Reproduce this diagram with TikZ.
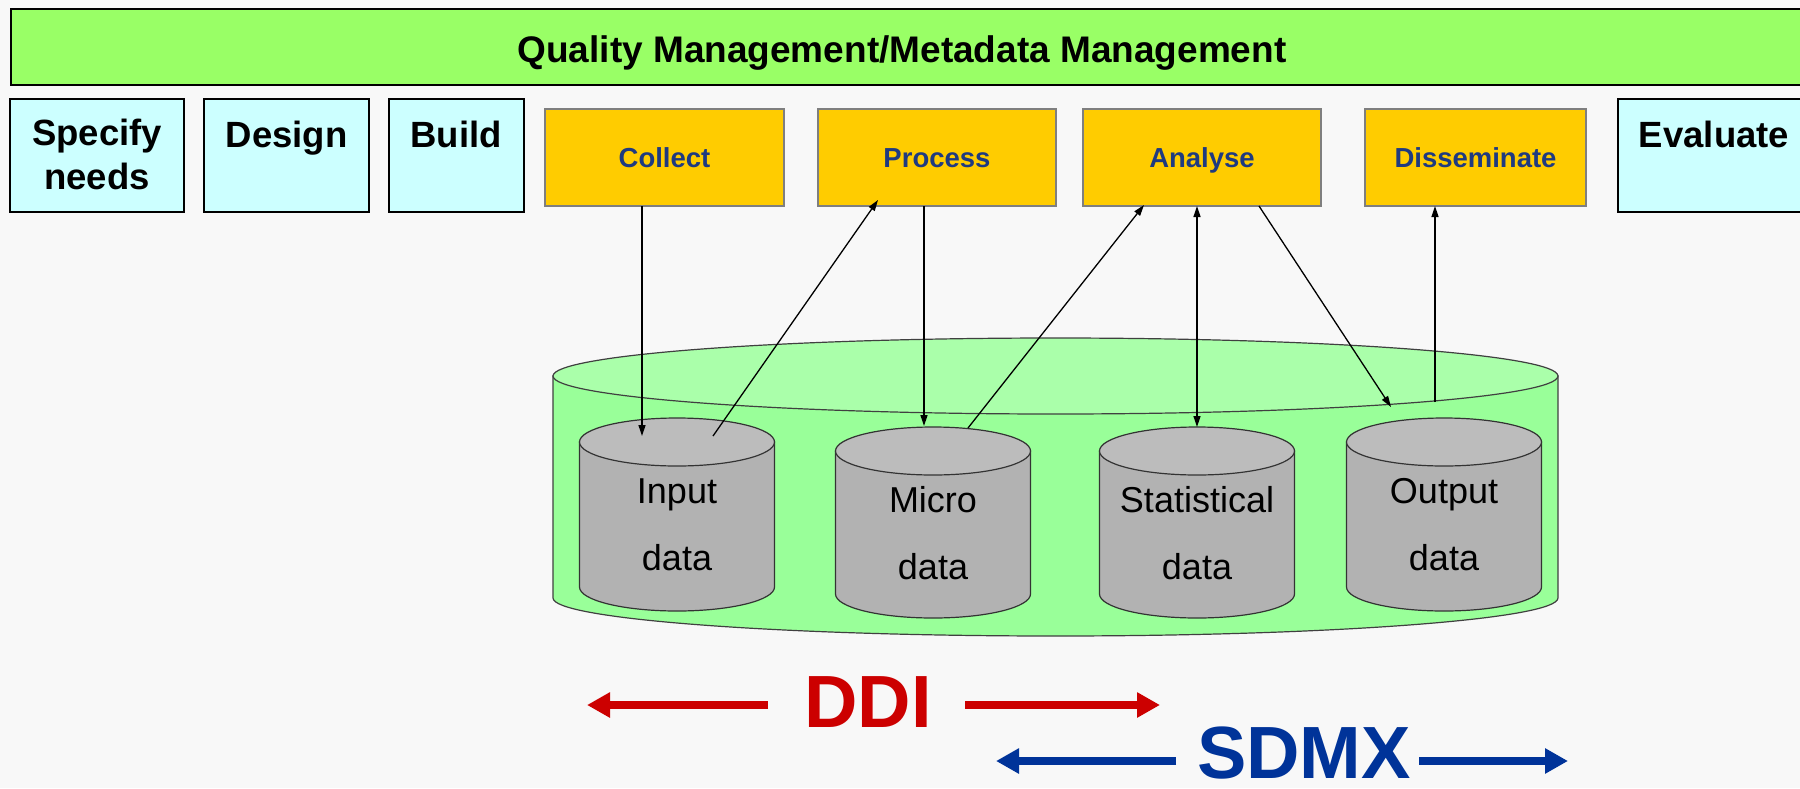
\documentclass[tikz,border=0pt]{standalone}
\usepackage{fontspec}
\setmainfont{Liberation Sans}
\usetikzlibrary{arrows.meta,calc}

\definecolor{pagebg}{HTML}{F8F8F8}
\definecolor{barGreen}{HTML}{99FF66}
\definecolor{phaseCyan}{HTML}{CCFFFF}
\definecolor{phaseGold}{HTML}{FFCC00}
\definecolor{goldEdge}{HTML}{7F7F7F}
\definecolor{phaseText}{HTML}{1F3A80}
\definecolor{storeBody}{HTML}{99FF99}
\definecolor{storeTop}{HTML}{AAFFAA}
\definecolor{storeEdge}{HTML}{404040}
\definecolor{dbBody}{HTML}{B2B2B2}
\definecolor{dbTop}{HTML}{BCBCBC}
\definecolor{dbEdge}{HTML}{333333}
\definecolor{ddiRed}{HTML}{CC0000}
\definecolor{sdmxBlue}{HTML}{003399}

% one grey data cylinder: name, centre x, top y, body height
\newcommand\datastore[4]{%
  \begin{scope}[shift={(#2,#3)}]
    \path[draw=dbEdge, line width=1.2pt, fill=dbBody]
      (-97.5,0) -- (-97.5,#4)
      arc[start angle=180, end angle=360, x radius=97.5pt, y radius=24pt]
      -- (97.5,0) -- cycle;
    \path[draw=dbEdge, line width=1.2pt, fill=dbTop]
      (0,0) ellipse[x radius=97.5pt, y radius=24pt];
    \coordinate (#1) at (0,0);
  \end{scope}}

\begin{document}
\begin{tikzpicture}[x=1pt, y=-1pt,
  every node/.style={inner sep=0pt, outer sep=0pt},
  phasebox/.style={draw=black, line width=2.5pt, fill=phaseCyan,
    anchor=north west, minimum height=113pt, minimum width=#1},
  stepbox/.style={draw=goldEdge, line width=1.5pt, fill=phaseGold,
    anchor=north west, minimum height=97pt, minimum width=#1,
    font=\fontsize{27.5}{32}\selectfont\bfseries, text=phaseText,
    text height=20pt, text depth=0pt},
  phaselabel/.style={font=\fontsize{36.5}{44}\selectfont\bfseries, align=center},
  dblabel/.style={font=\fontsize{36}{67}\selectfont, align=center, anchor=south},
  flow/.style={draw=black, line width=1.3pt, -{Triangle[length=11pt,width=7pt]}},
  flowboth/.style={draw=black, line width=1.3pt,
    {Triangle[length=11pt,width=7pt]}-{Triangle[length=11pt,width=7pt]}},
  bigarrow/.style={line width=8pt, -{Triangle[length=23pt,width=24pt]}},
  stdlabel/.style={font=\fontsize{74}{80}\selectfont\bfseries, anchor=base}
]
\clip (0,0) rectangle (1800,788);
\fill[pagebg] (0,0) rectangle (1800,788);

% overarching management bar
\node[draw=black, line width=2.5pt, fill=barGreen, anchor=north west,
      minimum width=1830pt, minimum height=76pt] (qm) at (11,9) {};
\node[font=\fontsize{37}{44}\selectfont\bfseries, anchor=base] (qmtext)
      at (902,62) {Quality Management/Metadata Management};

% phases outside the data flow
\node[phasebox=174pt] (specify) at (10,99) {};
\node[phasebox=165pt] (design) at (204,99) {};
\node[phasebox=135pt] (build) at (389,99) {};
\node[phasebox=230pt] (evaluate) at (1618,99) {};
\node[phaselabel, anchor=south] (specifyt) at (97,190) {Specify\\needs};
\node[phaselabel, anchor=base] (designt) at (286.5,147) {Design};
\node[phaselabel, anchor=base] (buildt) at (456,147) {Build};
\node[phaselabel, anchor=base] (evaluatet) at (1714,147) {Evaluate};

% phases working on the data stores
\node[stepbox=239pt] (collect) at (545,109) {Collect};
\node[stepbox=238pt] (process) at (818,109) {Process};
\node[stepbox=238pt] (analyse) at (1083,109) {Analyse};
\node[stepbox=221pt] (disseminate) at (1365,109) {Disseminate};

% large store holding the data cylinders
\path[draw=storeEdge, line width=1.2pt, fill=storeBody]
  (553,376) -- (553,598)
  arc[start angle=180, end angle=360, x radius=502.5pt, y radius=38pt]
  -- (1558,376) -- cycle;
\path[draw=storeEdge, line width=1.2pt, fill=storeTop]
  (1055.5,376) ellipse[x radius=502.5pt, y radius=38pt];

\datastore{input}{677}{442}{145}
\datastore{micro}{933}{451}{143}
\datastore{stat}{1197}{451}{143}
\datastore{output}{1444}{442}{145}

\node[dblabel] (inputt) at (677,571) {Input\\data};
\node[dblabel] (microt) at (933,580) {Micro\\data};
\node[dblabel] (statt) at (1197,580) {Statistical\\data};
\node[dblabel] (outputt) at (1444,571) {Output\\data};

% connection points on the stores
\coordinate (inIn) at (642,436);
\coordinate (inOut) at (713,436);
\coordinate (prIn) at (878,200);
\coordinate (miIn) at (924,426);
\coordinate (miOut) at (968,428);
\coordinate (anIn) at (1144,205);
\coordinate (stTop) at (1197,427);
\coordinate (anOut) at (1259,206);
\coordinate (outIn) at (1391,407);
\coordinate (storeOut) at (1435,402);

\draw[flow] (collect.south -| inIn) -- (inIn);
\draw[flow] (inOut) -- (prIn);
\draw[flow] (process.south -| miIn) -- (miIn);
\draw[flow] (miOut) -- (anIn);
\draw[flowboth] (analyse.south -| stTop) -- (stTop);
\draw[flow] (anOut) -- (outIn);
\draw[flow] (storeOut) -- (disseminate.south -| storeOut);

% standards and their coverage
\node[stdlabel, text=ddiRed] (ddi) at (868,727) {DDI};
\node[stdlabel, text=sdmxBlue] (sdmx) at (1304,778) {SDMX};

\coordinate (ddiLt) at (768,705);
\coordinate (ddiLh) at (587,705);
\coordinate (ddiRt) at (965,705);
\coordinate (ddiRh) at (1160,705);
\coordinate (sdmxLt) at (1176,761);
\coordinate (sdmxLh) at (996,761);
\coordinate (sdmxRt) at (1419,761);
\coordinate (sdmxRh) at (1568,761);

\draw[bigarrow, ddiRed] (ddiLt) -- (ddiLh);
\draw[bigarrow, ddiRed] (ddiRt) -- (ddiRh);
\draw[bigarrow, sdmxBlue] (sdmxLt) -- (sdmxLh);
\draw[bigarrow, sdmxBlue] (sdmxRt) -- (sdmxRh);
\end{tikzpicture}
\end{document}
